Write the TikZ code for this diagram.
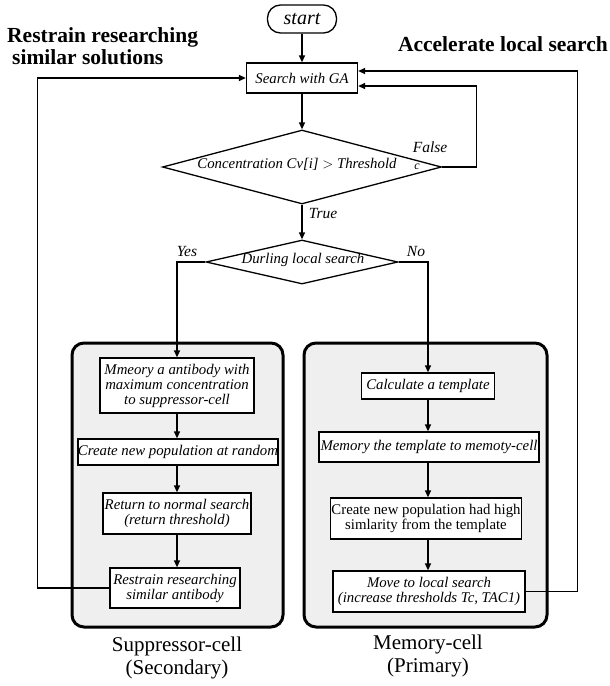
\documentclass[tikz,border=0pt]{standalone}
\usepackage{fontspec}
\setmainfont{Liberation Serif}
\usetikzlibrary{shapes.geometric,arrows.meta}
\definecolor{panelgray}{RGB}{239,239,239}
\begin{document}
\begin{tikzpicture}[x=1pt,y=-1pt,
  conn/.style={line width=1.3pt},
  arr/.style={conn,-{Triangle[length=7pt,width=6pt]}},
  box/.style={draw,line width=1.3pt,fill=white,inner sep=0pt,align=center,
    font=\fontsize{14.8}{15}\selectfont\itshape},
  uprbox/.style={box,font=\fontsize{14.8}{15}\selectfont},
  diam/.style={draw,diamond,line width=1.3pt,fill=white,inner sep=0pt},
  panel/.style={draw,line width=3pt,rounded corners=12pt,fill=panelgray,inner sep=0pt},
  lab/.style={font=\fontsize{15.5}{16}\selectfont\itshape,inner sep=0pt},
  head/.style={font=\fontsize{21.5}{22}\selectfont\bfseries,inner sep=0pt,align=left},
  captxt/.style={font=\fontsize{21}{23}\selectfont,inner sep=0pt,align=center}
]
\useasboundingbox (0,0) rectangle (610,686);

% panels
\node[panel,minimum width=211pt,minimum height=284pt] (pleft) at (177.5,485) {};
\node[panel,minimum width=243pt,minimum height=284pt] (pright) at (425.5,485) {};

% top
\node[draw,line width=1.3pt,rounded corners=13pt,minimum width=69pt,minimum height=28pt,inner sep=0pt,
  font=\fontsize{20}{20}\selectfont\itshape] (start) at (302,19) {start};
\node[box,minimum width=111pt,minimum height=30pt] (search) at (302,78) {Search with GA};

\node[diam,minimum width=279pt,minimum height=74pt] (d1) at (302,167) {};
\node[inner sep=0pt,font=\fontsize{14.8}{15}\selectfont\itshape] (d1t) at (297,164) {Concentration Cv[i] $>$ Threshold};
\node[inner sep=0pt,font=\fontsize{12}{12}\selectfont\itshape] (d1c) at (417,167) {c};

\node[diam,minimum width=192pt,minimum height=44pt] (d2) at (302,262) {};
\node[inner sep=0pt,font=\fontsize{14.8}{15}\selectfont\itshape] (d2t) at (303,260) {Durling local search};

% left column
\node[box,minimum width=154pt,minimum height=55pt] (mm) at (177,385.5)
  {Mmeory a antibody with\\maximum concentration\\to suppressor-cell};
\node[box,minimum width=199pt,minimum height=26pt] (rand) at (178,452) {Create new population at random};
\node[box,minimum width=148pt,minimum height=41pt] (ret) at (177,513.5) {Return to normal search\\(return threshold)};
\node[box,minimum width=130pt,minimum height=40pt] (res) at (175,588) {Restrain researching\\similar antibody};

% right column
\node[box,minimum width=133pt,minimum height=26pt] (calc) at (428,386) {Calculate a template};
\node[box,minimum width=220pt,minimum height=30pt] (memt) at (429,447) {Memory the template to memoty-cell};
\node[uprbox,minimum width=191pt,minimum height=41pt] (crh) at (426,518.5) {Create new population had high\\simlarity from the template};
\node[box,minimum width=192pt,minimum height=41pt] (move) at (429,591.5) {Move to local search\\(increase thresholds Tc, TAC1)};

% labels
\node[lab] (tfalse) at (430,147) {False};
\node[lab] (ttrue) at (323,214) {True};
\node[lab] (tyes) at (187,251) {Yes};
\node[lab] (tno) at (416,251) {No};

\node[head,anchor=west] (h1) at (7,46) {Restrain researching\\\hspace{5pt}similar solutions};
\node[head,anchor=east] (h2) at (608,44) {Accelerate local search};

\node[captxt] (c1) at (177,658) {Suppressor-cell\\(Secondary)};
\node[captxt] (c2) at (428,656) {Memory-cell\\(Primary)};

% connectors
\draw[arr] (start) -- (search);
\draw[arr] (search) -- (d1);
\draw[arr] (d1.south) -- (d2.north);
\draw[arr] (d1.east) -- ++(34,0) |- ([yshift=-8pt]search.east);
\draw[arr] (move.east) -- ++(52,0) |- ([yshift=7pt]search.east);
\draw[arr] (res.west) -- ++(-72,0) |- (search.west);
\draw[arr] (d2.west) -| (mm.north);
\draw[arr] (d2.east) -| (calc.north);
\draw[arr] (mm.south) -- (mm.south |- rand.north);
\draw[arr] (mm.south |- rand.south) -- (mm.south |- ret.north);
\draw[arr] (ret.south) -- (ret.south |- res.north);
\draw[arr] (calc.south) -- (calc.south |- memt.north);
\draw[arr] (calc.south |- memt.south) -- (calc.south |- crh.north);
\draw[arr] (calc.south |- crh.south) -- (calc.south |- move.north);
\end{tikzpicture}
\end{document}
